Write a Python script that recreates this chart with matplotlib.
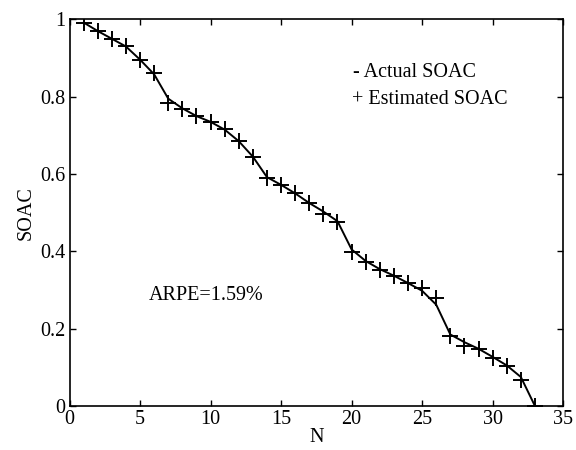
import matplotlib
matplotlib.use("Agg")
import matplotlib.pyplot as plt
import numpy as np

plt.rcParams['font.family'] = ['Liberation Serif', 'DejaVu Serif']

N = list(range(1, 34))
estimated = [0.992, 0.970, 0.949, 0.932, 0.894, 0.862, 0.785, 0.768, 0.749, 0.734,
             0.716, 0.685, 0.645, 0.590, 0.571, 0.550, 0.524, 0.497, 0.475, 0.398,
             0.373, 0.352, 0.335, 0.317, 0.304, 0.279, 0.182, 0.155, 0.147, 0.125,
             0.103, 0.067, 0.0]
actual = [0.992, 0.970, 0.950, 0.930, 0.896, 0.858, 0.795, 0.770, 0.750, 0.735,
          0.715, 0.685, 0.645, 0.592, 0.572, 0.550, 0.525, 0.503, 0.478, 0.405,
          0.375, 0.354, 0.337, 0.318, 0.298, 0.262, 0.185, 0.165, 0.148, 0.127,
          0.105, 0.075, 0.0]

fig = plt.figure(figsize=(5.76, 4.5), dpi=100)
ax = fig.add_axes([0.1207, 0.0978, 0.857, 0.859])

ax.plot(N, actual, color='black', linewidth=1.4)
ax.plot(N, estimated, linestyle='none', marker='+', markersize=11,
        markeredgewidth=1.4, color='black')

ax.set_xlim(0, 35)
ax.set_ylim(0, 1)
ax.set_xticks([0, 5, 10, 15, 20, 25, 30, 35])
ax.set_yticks([0, 0.2, 0.4, 0.6, 0.8, 1])
ax.set_yticklabels(['0', '0.2', '0.4', '0.6', '0.8', '1'])
ax.tick_params(direction='in', top=True, right=True, labelsize=14.5, length=4, width=1, pad=3)
for s in ax.spines.values():
    s.set_linewidth(1.2)

ax.set_xlabel('N', fontsize=14.5, labelpad=-1)
ax.set_ylabel('SOAC', fontsize=14.5, labelpad=3)

ax.text(20.1, 0.864, '- Actual SOAC', fontsize=14.5, va='center', ha='left')
ax.text(20.0, 0.792, '+ Estimated SOAC', fontsize=14.5, va='center', ha='left')
ax.text(5.6, 0.285, 'ARPE=1.59%', fontsize=14.5, va='center', ha='left')

fig.savefig('out.png', dpi=100)
